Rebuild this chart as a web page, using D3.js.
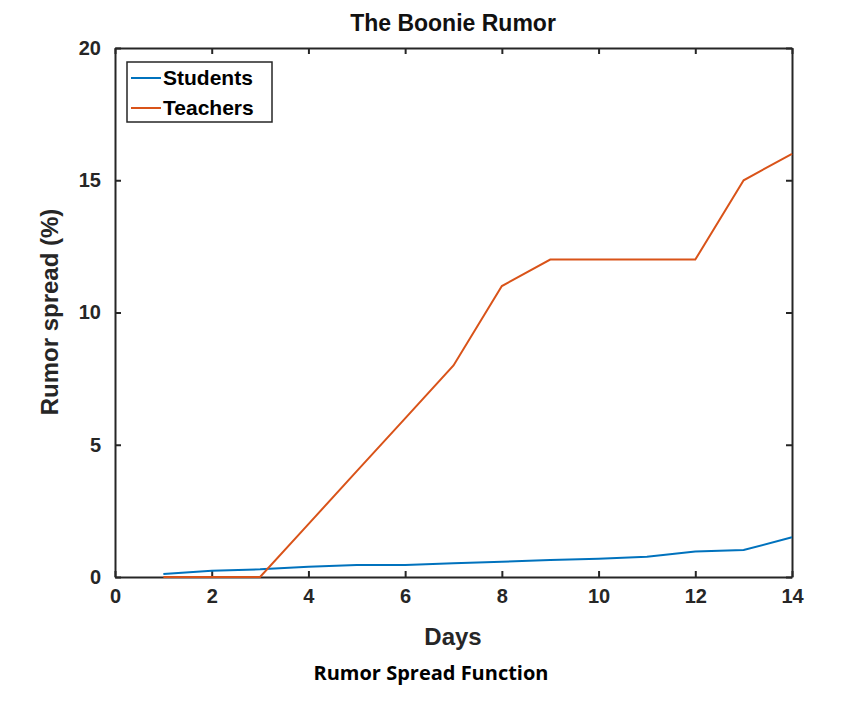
<!DOCTYPE html>
<html><head><meta charset="utf-8">
<script src="https://cdn.jsdelivr.net/npm/d3@7"></script>
<style>body{margin:0;background:#fff;}svg{font-family:Arial,"Liberation Sans",sans-serif;}</style>
</head><body><svg id="c" width="866" height="703"></svg>
<script>
const days = [1,2,3,4,5,6,7,8,9,10,11,12,13,14];
const students = [0.11,0.24,0.29,0.39,0.45,0.45,0.52,0.58,0.64,0.69,0.77,0.96,1.02,1.5];
const teachers = [0,0,0,2,4,6,8,11,12,12,12,12,15,16];
const xTicks = [0,2,4,6,8,10,12,14];
const yTicks = [0,5,10,15,20];
const svg = d3.select("#c");
const L=115,R=792,T=48,B=577;
const x = d3.scaleLinear().domain([0,14]).range([L,R]);
const y = d3.scaleLinear().domain([0,20]).range([B,T]);
const ax = "#262626";
function style(g){g.attr("font-size",20).attr("font-family","Arial,'Liberation Sans',sans-serif");g.selectAll("text").style("font-size","20px").attr("font-weight","bold").attr("fill",ax);g.selectAll("line,path").attr("stroke",ax).attr("stroke-width",2);}
svg.append("g").attr("transform",`translate(0,${B})`).call(d3.axisBottom(x).tickValues(xTicks).tickSizeInner(-6).tickSizeOuter(0).tickPadding(12)).call(style);
svg.append("g").attr("transform",`translate(${L},0)`).call(d3.axisLeft(y).tickValues(yTicks).tickSizeInner(-6).tickSizeOuter(0).tickPadding(14)).call(style);
svg.append("g").attr("transform",`translate(0,${T})`).call(d3.axisTop(x).tickValues(xTicks).tickSizeInner(-6).tickSizeOuter(0).tickFormat("")).call(style);
svg.append("g").attr("transform",`translate(${R},0)`).call(d3.axisRight(y).tickValues(yTicks).tickSizeInner(-6).tickSizeOuter(0).tickFormat("")).call(style);
const line = d3.line().x((d,i)=>x(days[i])).y(d=>y(d));
svg.append("path").datum(students).attr("d",line).attr("fill","none").attr("stroke","#0072BD").attr("stroke-width",2);
svg.append("path").datum(teachers).attr("d",line).attr("fill","none").attr("stroke","#D95319").attr("stroke-width",2);
svg.append("text").attr("x",453).attr("y",31).attr("text-anchor","middle").style("font-size","23px").attr("font-weight","bold").attr("fill","#111").text("The Boonie Rumor");
svg.append("text").attr("x",453).attr("y",645).attr("text-anchor","middle").style("font-size","24px").attr("font-weight","bold").attr("fill",ax).text("Days");
svg.append("text").attr("transform","translate(58,312) rotate(-90)").attr("text-anchor","middle").style("font-size","24px").attr("font-weight","bold").attr("fill",ax).text("Rumor spread (%)");
svg.append("text").attr("x",431).attr("y",680).attr("text-anchor","middle").style("font-size","20px").attr("font-weight","bold").attr("font-family","'Open Sans',sans-serif").attr("fill","#000").text("Rumor Spread Function");
const lg = svg.append("g");
lg.append("rect").attr("x",127).attr("y",62).attr("width",145).attr("height",60).attr("fill","#fff").attr("stroke",ax).attr("stroke-width",1.5);
[["Students","#0072BD",78],["Teachers","#D95319",108]].forEach(([n,c,yy])=>{
  lg.append("line").attr("x1",131).attr("x2",161).attr("y1",yy).attr("y2",yy).attr("stroke",c).attr("stroke-width",2);
  lg.append("text").attr("x",163).attr("y",yy+7).style("font-size","21px").attr("font-weight","bold").attr("fill","#000").text(n);
});
</script></body></html>
